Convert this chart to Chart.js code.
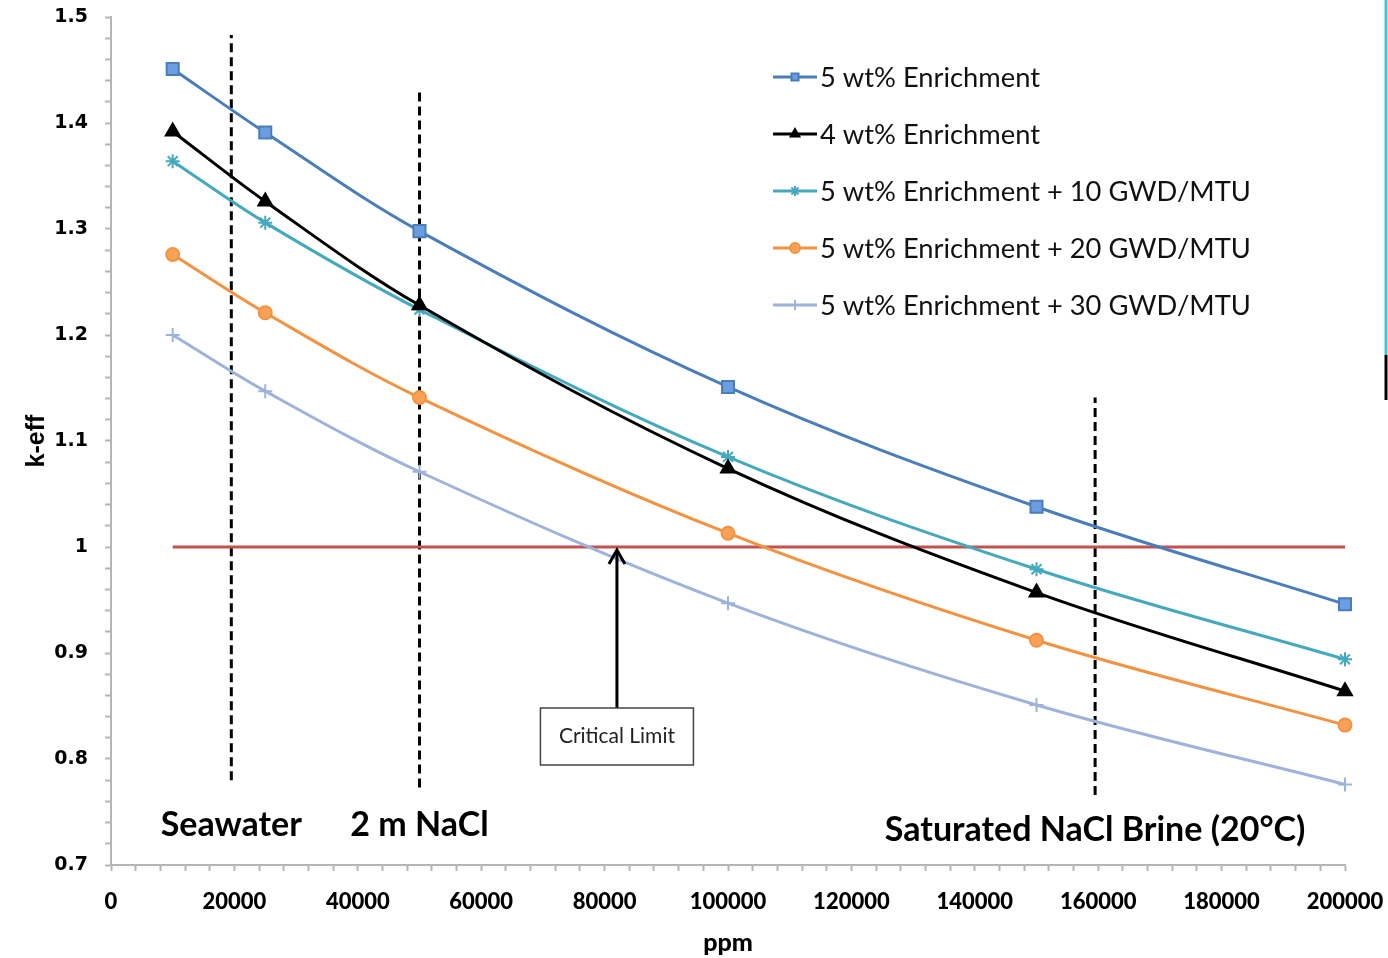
<!DOCTYPE html>
<html>
<head>
<meta charset="utf-8">
<script src="https://cdn.jsdelivr.net/npm/chart.js@4.4.1/dist/chart.umd.min.js"></script>
<style>
  html, body { margin: 0; padding: 0; background: #fff; }
  #wrap { width: 1388px; height: 958px; position: relative; }
</style>
</head>
<body>
<div id="wrap"><canvas id="keffChart" width="1388" height="958"></canvas></div>
<script>
// datos
const ppm = [10000, 25000, 50000, 100000, 150000, 200000];
const enr5 = [1.451, 1.391, 1.298, 1.151, 1.038, 0.946];
const enr4 = [1.392, 1.326, 1.228, 1.074, 0.957, 0.864];
const burn10 = [1.364, 1.306, 1.224, 1.085, 0.979, 0.894];
const burn20 = [1.276, 1.221, 1.141, 1.013, 0.912, 0.832];
const burn30 = [1.200, 1.147, 1.071, 0.947, 0.851, 0.776];

const seriesLabels = [
    '5 wt% Enrichment',
    '4 wt% Enrichment',
    '5 wt% Enrichment + 10 GWD/MTU',
    '5 wt% Enrichment + 20 GWD/MTU',
    '5 wt% Enrichment + 30 GWD/MTU'
];

// limite critico y lineas de referencia
const limitX = [10000, 200000];
const limitY = [1, 1];
const markerNames = ['Seawater', '2 m NaCl', 'Saturated NaCl Brine (20\u00B0C)'];
const markerX = [19500, 50000, 159500];
const markerTop = [1.483, 1.429, 1.141];
const markerBottom = [0.780, 0.773, 0.766];
const markerLabelY = [0.738, 0.738, 0.733];
const arrowX = 82000;

const xTicks = [0, 20000, 40000, 60000, 80000, 100000, 120000, 140000, 160000, 180000, 200000];
const yTicks = [0.7, 0.8, 0.9, 1, 1.1, 1.2, 1.3, 1.4, 1.5];

function pts(ys) {
    return ppm.map((x, i) => ({ x: x, y: ys[i] }));
}

function series(label, ys, color, fill, style, radius) {
    return {
        label: label,
        data: pts(ys),
        borderColor: color,
        backgroundColor: fill,
        pointBorderColor: color,
        pointBackgroundColor: fill,
        pointStyle: style,
        pointRadius: radius,
        pointBorderWidth: 2,
        borderWidth: 3,
        tension: 0.35,
        clip: false
    };
}

const datasets = [
    series(seriesLabels[0], enr5, '#4a7ebb', '#6c9de0', 'rect', 8.5),
    series(seriesLabels[1], enr4, '#000000', '#000000', 'triangle', 8),
    series(seriesLabels[2], burn10, '#45a9bd', '#45a9bd', 'star', 7),
    series(seriesLabels[3], burn20, '#f39240', '#f7a257', 'circle', 6.5),
    series(seriesLabels[4], burn30, '#9db3db', '#9db3db', 'cross', 7)
];

// linea roja del limite critico
datasets.push({
    label: 'limit',
    data: limitX.map((x, i) => ({ x: x, y: limitY[i] })),
    borderColor: '#c5504d',
    borderWidth: 3,
    pointRadius: 0,
    tension: 0
});

// lineas verticales punteadas
markerX.forEach(function(x, i) {
    datasets.push({
        label: 'marker' + i,
        data: [{ x: x, y: markerBottom[i] }, { x: x, y: markerTop[i] }],
        borderColor: '#000000',
        borderWidth: 3,
        borderDash: [9, 5],
        pointRadius: 0,
        tension: 0
    });
});

const calibri = 'Lato, "Open Sans", sans-serif';

const annotations = {
    id: 'annotations',
    afterDatasetsDraw(chart) {
        const ctx = chart.ctx;
        const xs = chart.scales.x;
        const ys = chart.scales.y;
        ctx.save();

        // etiquetas de las lineas verticales
        ctx.fillStyle = '#000';
        ctx.font = 'bold 34px ' + calibri;
        ctx.textAlign = 'center';
        ctx.textBaseline = 'middle';
        markerNames.forEach(function(name, i) {
            ctx.fillText(name, xs.getPixelForValue(markerX[i]), ys.getPixelForValue(markerLabelY[i]));
        });

        // caja "Critical Limit" y flecha
        const ax = xs.getPixelForValue(arrowX);
        const tipY = ys.getPixelForValue(1) + 3;
        const boxW = 153, boxH = 57, boxTop = 708;
        ctx.strokeStyle = '#000';
        ctx.lineWidth = 3;
        ctx.beginPath();
        ctx.moveTo(ax, boxTop);
        ctx.lineTo(ax, tipY + 2);
        ctx.stroke();
        ctx.beginPath();
        ctx.moveTo(ax - 8, tipY + 14);
        ctx.lineTo(ax, tipY);
        ctx.lineTo(ax + 8, tipY + 14);
        ctx.stroke();
        ctx.fillStyle = '#fff';
        ctx.fillRect(ax - boxW / 2, boxTop, boxW, boxH);
        ctx.strokeStyle = '#444';
        ctx.lineWidth = 1.5;
        ctx.strokeRect(ax - boxW / 2, boxTop, boxW, boxH);
        ctx.fillStyle = '#222';
        ctx.font = '21px ' + calibri;
        ctx.fillText('Critical Limit', ax, boxTop + boxH / 2);

        // leyenda
        const lx = 773, lw = 44, rowY = 77, rowGap = 57;
        ctx.textAlign = 'left';
        ctx.font = '27.3px ' + calibri;
        for (let i = 0; i < 5; i++) {
            const ds = chart.data.datasets[i];
            const y = rowY + i * rowGap;
            ctx.strokeStyle = ds.borderColor;
            ctx.lineWidth = 3;
            ctx.beginPath();
            ctx.moveTo(lx, y);
            ctx.lineTo(lx + lw, y);
            ctx.stroke();
            ctx.fillStyle = ds.pointBackgroundColor;
            ctx.strokeStyle = ds.pointBorderColor;
            ctx.lineWidth = 2;
            Chart.helpers.drawPoint(ctx, { pointStyle: ds.pointStyle, radius: 5, borderWidth: 2 }, lx + lw / 2, y);
            ctx.fillStyle = '#111';
            ctx.fillText(ds.label, lx + lw + 3, y + 1);
        }

        // borde recortado a la derecha de la imagen original
        ctx.lineWidth = 3;
        ctx.strokeStyle = '#4cc0d8';
        ctx.beginPath();
        ctx.moveTo(1386, 0);
        ctx.lineTo(1386, 355);
        ctx.stroke();
        ctx.strokeStyle = '#000';
        ctx.beginPath();
        ctx.moveTo(1386, 355);
        ctx.lineTo(1386, 400);
        ctx.stroke();
        ctx.restore();
    }
};

function isMajor(v, step) {
    const r = v / step;
    return Math.abs(r - Math.round(r)) < 1e-6;
}

const ctx = document.getElementById('keffChart').getContext('2d');
const keffChart = new Chart(ctx, {
    type: 'line',
    data: { datasets: datasets },
    options: {
        responsive: false,
        animation: false,
        events: [],
        layout: { padding: { left: 0, right: 43, top: 17, bottom: 0 } },
        plugins: {
            legend: { display: false },
            tooltip: { enabled: false }
        },
        scales: {
            x: {
                type: 'linear',
                min: 0,
                max: 200000,
                afterFit(scale) {
                    scale.height = 93;
                    scale.paddingLeft = 0;
                    scale.paddingRight = 0;
                },
                afterBuildTicks(scale) {
                    const t = [];
                    for (let v = 0; v <= 200000; v += 4000) t.push({ value: v });
                    scale.ticks = t;
                },
                ticks: {
                    autoSkip: false,
                    maxRotation: 0,
                    padding: 18,
                    color: '#000',
                    font: { family: calibri, weight: 900, size: 22 },
                    callback: v => (xTicks.includes(v) ? String(v) : '')
                },
                grid: {
                    drawOnChartArea: false,
                    tickLength: 6,
                    tickColor: '#b5b5b5',
                    tickWidth: 2
                },
                border: { color: '#b5b5b5', width: 2 },
                title: {
                    display: true,
                    text: 'ppm',
                    color: '#000',
                    font: { family: calibri, weight: 900, size: 25 },
                    padding: { top: 0, bottom: 0 }
                }
            },
            y: {
                type: 'linear',
                min: 0.7,
                max: 1.5,
                afterFit(scale) {
                    scale.width = 111;
                    scale.paddingTop = 0;
                    scale.paddingBottom = 0;
                },
                afterBuildTicks(scale) {
                    const t = [];
                    for (let i = 0; i <= 40; i++) t.push({ value: Math.round((0.7 + i * 0.02) * 1000) / 1000 });
                    scale.ticks = t;
                },
                ticks: {
                    autoSkip: false,
                    padding: 17,
                    color: '#000',
                    font: { family: '"DejaVu Sans", sans-serif', weight: 'bold', size: 19 },
                    callback: v => (isMajor(v, 0.1) && yTicks.some(t => Math.abs(t - v) < 1e-6) ? String(Number(v.toFixed(1))) : '')
                },
                grid: {
                    drawOnChartArea: false,
                    tickLength: 6,
                    tickColor: '#b5b5b5',
                    tickWidth: 2
                },
                border: { color: '#b5b5b5', width: 2 },
                title: {
                    display: true,
                    text: 'k-eff',
                    color: '#000',
                    font: { family: '"Liberation Sans", Arial, sans-serif', weight: 'bold', size: 25 },
                    padding: { top: 22, bottom: 0 }
                }
            }
        }
    },
    plugins: [annotations]
});
</script>
</body>
</html>
